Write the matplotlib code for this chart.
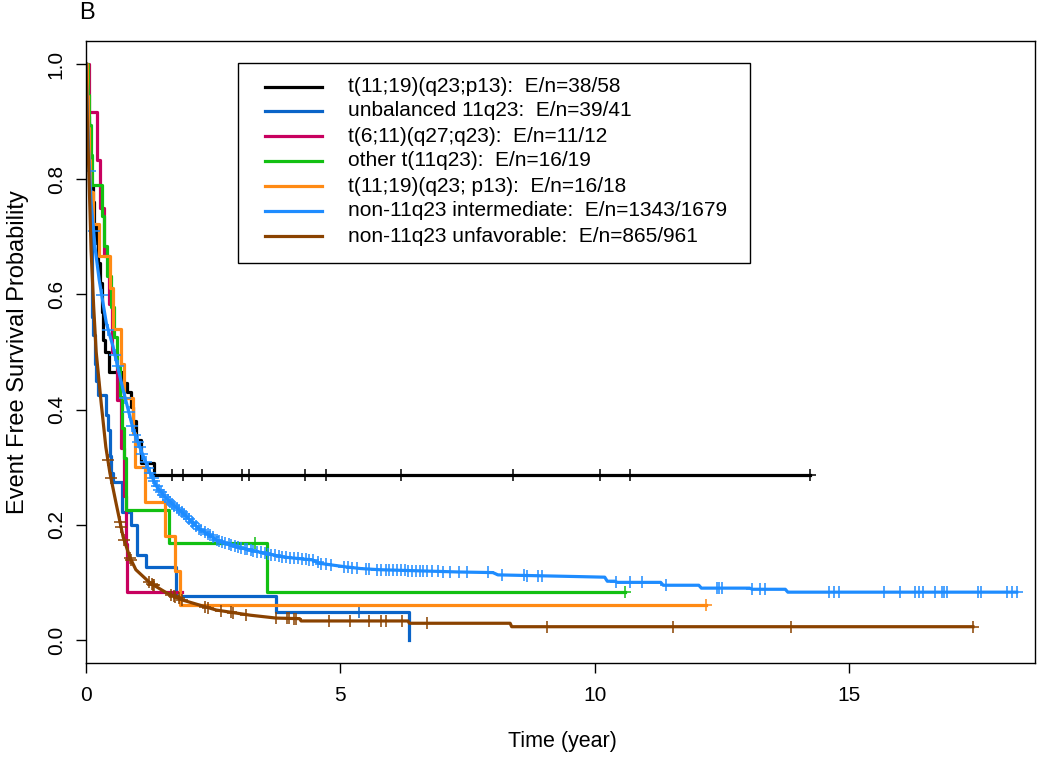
import numpy as np
import matplotlib
matplotlib.use("Agg")
import matplotlib.pyplot as plt
from matplotlib.lines import Line2D
from matplotlib.patches import Rectangle

plt.rcParams["font.family"] = ["Liberation Sans", "DejaVu Sans"]

# Kaplan-Meier curves (time in years, survival probability)
bk_t = [0, 0.02, 0.04, 0.06, 0.08, 0.10, 0.13, 0.16, 0.20, 0.24, 0.28, 0.31, 0.34,
        0.38, 0.45, 0.71, 0.80, 0.88, 0.93, 0.98, 1.08, 1.34, 14.23]
bk_s = [1.0, 0.95, 0.91, 0.88, 0.84, 0.79, 0.76, 0.72, 0.69, 0.655, 0.62, 0.57, 0.52,
        0.50, 0.465, 0.446, 0.43, 0.405, 0.38, 0.347, 0.307, 0.287, 0.287]
bk_cens = [1.70, 1.91, 2.29, 3.07, 3.20, 4.31, 4.72, 6.20, 8.40, 10.10, 10.70, 14.23]

db_t = [0, 0.02, 0.04, 0.06, 0.08, 0.10, 0.11, 0.12, 0.14, 0.17, 0.20, 0.24, 0.40,
        0.43, 0.47, 0.50, 0.53, 0.71, 0.89, 1.00, 1.18, 1.77, 3.74, 6.36]
db_s = [1.0, 0.95, 0.90, 0.85, 0.78, 0.70, 0.62, 0.56, 0.53, 0.48, 0.45, 0.425, 0.39,
        0.365, 0.32, 0.29, 0.275, 0.222, 0.20, 0.148, 0.127, 0.077, 0.049, 0.0]
db_cens = [5.37]

mg_t = [0, 0.06, 0.21, 0.28, 0.36, 0.45, 0.52, 0.60, 0.68, 0.74, 0.78, 0.80, 1.89]
mg_s = [1.0, 0.917, 0.833, 0.75, 0.667, 0.583, 0.5, 0.417, 0.333, 0.25, 0.167, 0.083, 0.083]
mg_cens = []

gr_t = [0, 0.03, 0.06, 0.09, 0.12, 0.32, 0.36, 0.42, 0.50, 0.55, 0.60, 0.66, 0.70,
        0.74, 0.78, 1.63, 3.55, 10.6]
gr_s = [1.0, 0.947, 0.895, 0.842, 0.79, 0.737, 0.684, 0.632, 0.579, 0.526, 0.474,
        0.421, 0.368, 0.316, 0.226, 0.169, 0.084, 0.084]
gr_cens = [3.33, 10.6]

or_t = [0, 0.01, 0.03, 0.05, 0.08, 0.14, 0.26, 0.48, 0.53, 0.68, 0.75, 0.93, 0.97,
        1.16, 1.55, 1.75, 1.85, 12.2]
or_s = [1.0, 0.944, 0.889, 0.833, 0.778, 0.722, 0.667, 0.611, 0.54, 0.48, 0.42, 0.36,
        0.30, 0.24, 0.18, 0.12, 0.06, 0.06]
or_cens = [12.2]

# large groups: many small steps, read as a smooth trace
lb_t = [0, 0.02, 0.05, 0.10, 0.18, 0.26, 0.40, 0.53, 0.73, 0.93, 1.10, 1.26, 1.40,
        1.58, 1.75, 1.91, 2.20, 2.56, 2.90, 3.23, 3.55, 3.88, 4.45, 4.60, 5.10, 5.40,
        5.77, 7.34, 8.00, 8.10, 9.70, 10.20, 10.25, 10.40, 10.45, 11.30, 11.35, 12.05,
        12.10, 13.05, 13.10, 13.75, 13.80, 18.30]
lb_s = [1.0, 0.93, 0.85, 0.76, 0.68, 0.625, 0.55, 0.51, 0.434, 0.365, 0.325, 0.29,
        0.265, 0.246, 0.232, 0.22, 0.195, 0.174, 0.163, 0.156, 0.15, 0.144, 0.139,
        0.133, 0.127, 0.124, 0.122, 0.118, 0.117, 0.113, 0.11, 0.109, 0.102, 0.102,
        0.1, 0.1, 0.095, 0.095, 0.09, 0.09, 0.088, 0.088, 0.083, 0.083]
lb_cens = [0.07, 0.15, 0.31, 0.44, 0.57, 0.62, 0.77, 0.84, 0.91, 0.97, 1.02, 1.06,
           1.11, 1.17, 1.22, 1.26, 1.31, 1.34, 1.39, 1.44, 1.47, 1.52, 1.56, 1.61,
           1.66, 1.69, 1.74, 1.79, 1.83, 1.88, 1.93, 1.97, 2.03, 2.08, 2.11, 2.17,
           2.23, 2.27, 2.34, 2.39, 2.43, 2.49, 2.57, 2.61, 2.68, 2.74, 2.81, 2.86,
           2.93, 2.98, 3.05, 3.12, 3.16, 3.24, 3.29, 3.37, 3.44, 3.51, 3.58, 3.64,
           3.72, 3.79, 3.86, 3.93, 4.01, 4.09, 4.16, 4.24, 4.32, 4.39, 4.47, 4.56,
           4.63, 4.72, 4.81, 5.08, 5.16, 5.23, 5.33, 5.50, 5.57, 5.73, 5.81, 5.89,
           5.96, 6.03, 6.11, 6.19, 6.27, 6.34, 6.41, 6.49, 6.56, 6.63, 6.70, 6.81,
           6.92, 7.01, 7.15, 7.34, 7.50, 7.90, 8.17, 8.62, 8.68, 8.88, 8.96, 10.43,
           10.69, 10.94, 11.40, 12.40, 12.45, 12.50, 13.10, 13.25, 13.35, 14.60,
           14.70, 14.80, 15.70, 16.00, 16.30, 16.38, 16.45, 16.70, 16.83, 16.88,
           16.93, 17.54, 17.60, 18.10, 18.20, 18.30]

br_t = [0, 0.02, 0.05, 0.08, 0.10, 0.15, 0.20, 0.30, 0.39, 0.47, 0.59, 0.73, 0.86,
        0.98, 1.26, 1.58, 1.91, 2.56, 3.23, 3.74, 4.20, 4.23, 6.33, 6.36, 8.34, 8.37,
        17.44]
br_s = [1.0, 0.92, 0.83, 0.74, 0.677, 0.58, 0.50, 0.41, 0.335, 0.29, 0.238, 0.179,
        0.144, 0.122, 0.099, 0.082, 0.069, 0.052, 0.043, 0.038, 0.037, 0.033, 0.033,
        0.029, 0.029, 0.023, 0.023]
br_cens = [0.43, 0.49, 0.67, 0.69, 0.75, 0.87, 0.89, 1.24, 1.30, 1.32, 1.34, 1.67,
           1.73, 1.75, 1.82, 1.89, 2.34, 2.40, 2.66, 2.85, 2.90, 3.15, 3.74, 3.96,
           4.00, 4.09, 4.13, 4.78, 5.20, 5.57, 5.80, 5.90, 6.22, 6.71, 9.06, 11.54,
           13.86, 17.44]

labels = [
    "t(11;19)(q23;p13):  E/n=38/58",
    "unbalanced 11q23:  E/n=39/41",
    "t(6;11)(q27;q23):  E/n=11/12",
    "other t(11q23):  E/n=16/19",
    "t(11;19)(q23; p13):  E/n=16/18",
    "non-11q23 intermediate:  E/n=1343/1679",
    "non-11q23 unfavorable:  E/n=865/961",
]
colors = ["#000000", "#0A64C8", "#C8005F", "#12C012", "#FF8A14", "#1E8CFF", "#8A4200"]

curves = [
    (bk_t, bk_s, bk_cens, True),
    (db_t, db_s, db_cens, True),
    (mg_t, mg_s, mg_cens, True),
    (gr_t, gr_s, gr_cens, True),
    (or_t, or_s, or_cens, True),
    (lb_t, lb_s, lb_cens, False),
    (br_t, br_s, br_cens, False),
]


def surv_at(t, s, x, step):
    t = np.asarray(t)
    s = np.asarray(s)
    x = np.asarray(x, dtype=float)
    if step:
        idx = np.searchsorted(t, x, side="right") - 1
        return s[np.clip(idx, 0, len(s) - 1)]
    return np.interp(x, t, s)


W, H = 1050, 759
fig = plt.figure(figsize=(W / 100, H / 100), dpi=100)
ax = fig.add_axes([86 / W, 1 - 663 / H, (1035 - 86) / W, (663 - 41) / H])


def fx(px):
    return px / W


def fy(py):
    return 1 - py / H


for (t, s, cens, step), col in zip(curves, colors):
    ax.plot(t, s, color=col, lw=2.3, drawstyle="steps-post" if step else "default")
    if len(cens):
        ax.plot(cens, surv_at(t, s, cens, step), ls="none", marker="+",
                ms=9, mew=1.1, color=col)

ax.set_xlim(0, 18.66)
ax.set_ylim(-0.04, 1.04)
ax.set_xticks([0, 5, 10, 15])
ax.set_yticks([0.0, 0.2, 0.4, 0.6, 0.8, 1.0])
ax.set_yticklabels(["0.0", "0.2", "0.4", "0.6", "0.8", "1.0"], rotation=90, va="center")
ax.tick_params(axis="both", direction="out", length=7.5, width=1, labelsize=15)
ax.tick_params(axis="x", pad=9)
ax.tick_params(axis="y", pad=7)
for sp in ax.spines.values():
    sp.set_linewidth(1)

fig.text(fx(562), fy(741), "Time (year)", ha="center", va="center", fontsize=15.5)
fig.text(fx(18), fy(352), "Event Free Survival Probability", rotation=90,
         ha="center", va="center", fontsize=17)
fig.text(fx(79), fy(13), "B", ha="left", va="center", fontsize=17)

# legend box drawn in figure pixels, as in the original R legend
fig.add_artist(Rectangle((fx(238), fy(263)), fx(750) - fx(238), fy(63) - fy(263),
                         transform=fig.transFigure, facecolor="white",
                         edgecolor="black", lw=1))
row_y = [87, 111, 136, 161, 186, 211, 236]
for yy, col, lab in zip(row_y, colors, labels):
    fig.add_artist(Line2D([fx(265), fx(322)], [fy(yy), fy(yy)],
                          transform=fig.transFigure, color=col, lw=2.3))
    fig.text(fx(348), fy(yy), lab, ha="left", va="center", fontsize=15)

fig.savefig("out.png", dpi=100)
